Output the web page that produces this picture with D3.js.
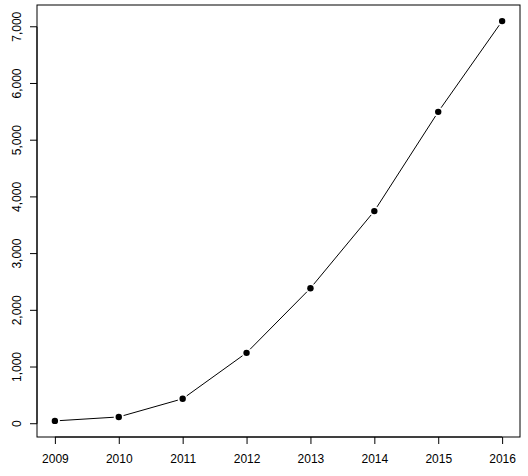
<!DOCTYPE html>
<html><head><script src="https://cdn.jsdelivr.net/npm/d3@7"></script>
<style>body{margin:0;background:#fff}</style></head><body><svg id="c" width="528" height="476"></svg>
<script>
const years=[2009,2010,2011,2012,2013,2014,2015,2016];
const values=[50,120,440,1250,2390,3750,5500,7100];
const yTicks=[0,1000,2000,3000,4000,5000,6000,7000];
const svg=d3.select("#c");
const L=37,R=520,T=5,B=437;
const x=d3.scaleLinear().domain([2008.72,2016.28]).range([L,R]);
const y=d3.scaleLinear().domain([-234,7384]).range([B,T]);
svg.append("rect").attr("x",L).attr("y",T).attr("width",R-L).attr("height",B-T).attr("fill","none").attr("stroke","#000");
const font="Arial, Liberation Sans, sans-serif";
const xa=svg.append("g").attr("transform",`translate(0,${B})`).call(d3.axisBottom(x).tickValues(years).tickFormat(d3.format("d")).tickSize(7).tickPadding(10));
xa.select(".domain").attr("d",`M${x(2009)},0H${x(2016)}`);
const ya=svg.append("g").attr("transform",`translate(${L},0)`).call(d3.axisLeft(y).tickValues(yTicks).tickSize(7).tickPadding(5));
ya.select(".domain").attr("d",`M0,${y(0)}V${y(7000)}`);
ya.selectAll("text").attr("transform",function(d){return `rotate(-90,${-12},${y(d)})`}).attr("x",-12).attr("y",y=>0).attr("dy","0").attr("text-anchor","middle")
  .each(function(d){d3.select(this).attr("transform",`translate(-16,${y(d)}) rotate(-90)`).attr("x",0).attr("y",0)});
ya.selectAll(".tick").attr("transform",null);
ya.selectAll(".tick line").attr("transform",d=>`translate(0,${y(d)})`);
svg.selectAll(".tick text").attr("font-family",font).attr("font-size",12).attr("fill","#000");
xa.selectAll("text").attr("font-size",12);
const gap=5;
for(let i=0;i<years.length-1;i++){
 const x1=x(years[i]),y1=y(values[i]),x2=x(years[i+1]),y2=y(values[i+1]);
 const dx=x2-x1,dy=y2-y1,len=Math.hypot(dx,dy);
 if(len>2*gap) svg.append("line").attr("x1",x1+dx/len*gap).attr("y1",y1+dy/len*gap).attr("x2",x2-dx/len*gap).attr("y2",y2-dy/len*gap).attr("stroke","#000");
}
svg.selectAll("circle.p").data(years).enter().append("circle").attr("cx",d=>x(d)).attr("cy",(d,i)=>y(values[i])).attr("r",3.2).attr("fill","#000");
</script></body></html>
